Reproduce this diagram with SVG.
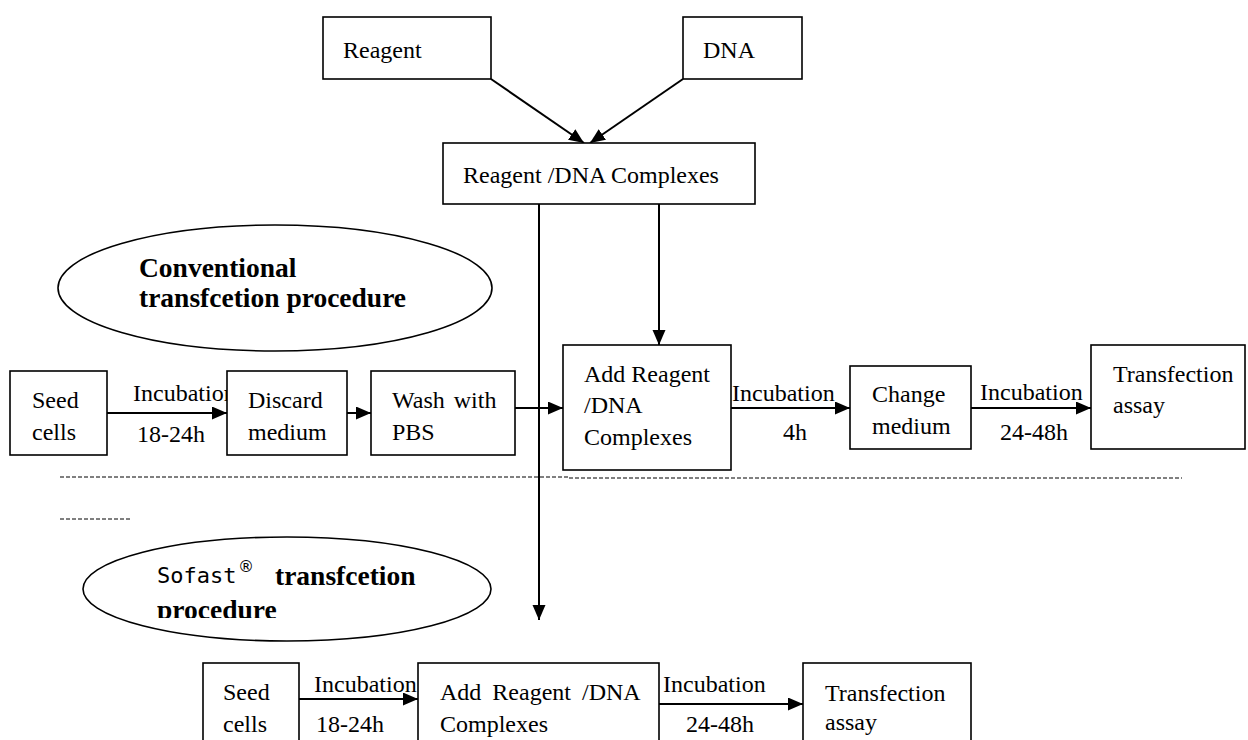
<svg xmlns="http://www.w3.org/2000/svg" width="1248" height="740" viewBox="0 0 1248 740">
<style>
.box{fill:#fff;stroke:#000;stroke-width:1.6}
.ell{fill:#fff;stroke:#000;stroke-width:1.6}
.t{font-family:"Liberation Serif","Times New Roman",serif;font-size:24px;fill:#000}
.b{font-family:"Liberation Serif","Times New Roman",serif;font-size:27.5px;font-weight:bold;fill:#000}
.mono{font-family:"DejaVu Sans Mono",monospace;font-size:22px;fill:#000}
.c{stroke:#000;stroke-width:2;fill:none}
.dash{stroke:#000;stroke-width:1;stroke-dasharray:4 2;fill:none}
</style>
<defs>
<marker id="ah" markerUnits="userSpaceOnUse" markerWidth="16" markerHeight="14" refX="15" refY="6.5" orient="auto">
<path d="M0,0 L15,6.5 L0,13 z" fill="#000"/>
</marker>
<clipPath id="clipSofast"><rect x="0" y="0" width="1248" height="618"/></clipPath>
</defs>
<rect width="1248" height="740" fill="#fff"/>

<g id="separator">
<line class="dash" x1="60" y1="477" x2="569" y2="477"/>
<line class="dash" x1="569" y1="478" x2="1182" y2="478"/>
<line class="dash" x1="60" y1="519" x2="131" y2="519"/>
</g>

<g id="labels-edges">
<text class="t" x="133" y="401">Incubation</text>
<text class="t" x="137" y="442">18-24h</text>
<text class="t" x="732" y="401">Incubation</text>
<text class="t" x="783" y="440">4h</text>
<text class="t" x="980" y="400">Incubation</text>
<text class="t" x="1000" y="440">24-48h</text>
<text class="t" x="314" y="692">Incubation</text>
<text class="t" x="316" y="732">18-24h</text>
<text class="t" x="663" y="692">Incubation</text>
<text class="t" x="686" y="732">24-48h</text>
</g>

<g id="connectors">
<line class="c" x1="491" y1="79" x2="584" y2="143" marker-end="url(#ah)"/>
<line class="c" x1="683" y1="79" x2="590" y2="143" marker-end="url(#ah)"/>
<line class="c" x1="539" y1="204" x2="539" y2="620" marker-end="url(#ah)"/>
<line class="c" x1="659" y1="204" x2="659" y2="345" marker-end="url(#ah)"/>
<line class="c" x1="107" y1="413" x2="227" y2="413" marker-end="url(#ah)"/>
<line class="c" x1="347" y1="413" x2="371" y2="413" marker-end="url(#ah)"/>
<line class="c" x1="515" y1="408" x2="563" y2="408" marker-end="url(#ah)"/>
<line class="c" x1="731" y1="408" x2="850" y2="408" marker-end="url(#ah)"/>
<line class="c" x1="971" y1="408" x2="1091" y2="408" marker-end="url(#ah)"/>
<line class="c" x1="299" y1="699" x2="418" y2="699" marker-end="url(#ah)"/>
<line class="c" x1="659" y1="704" x2="803" y2="704" marker-end="url(#ah)"/>
</g>

<g id="reagent">
<rect class="box" x="323" y="17" width="168" height="62"/>
<text class="t" x="343" y="58">Reagent</text>
</g>
<g id="dna">
<rect class="box" x="683" y="17" width="119" height="62"/>
<text class="t" x="703" y="58">DNA</text>
</g>
<g id="complexes">
<rect class="box" x="443" y="143" width="312" height="61"/>
<text class="t" x="463" y="183">Reagent /DNA Complexes</text>
</g>

<g id="conventional-title">
<ellipse class="ell" cx="275" cy="288" rx="217" ry="63"/>
<text class="b" x="139" y="277">Conventional</text>
<text class="b" x="139" y="307">transfcetion procedure</text>
</g>

<g id="seed1">
<rect class="box" x="10" y="371" width="97" height="84"/>
<text class="t" x="32" y="408">Seed</text>
<text class="t" x="32" y="440">cells</text>
</g>
<g id="discard">
<rect class="box" x="227" y="371" width="120" height="84"/>
<text class="t" x="248" y="408">Discard</text>
<text class="t" x="248" y="440">medium</text>
</g>
<g id="wash">
<rect class="box" x="371" y="371" width="144" height="84"/>
<text class="t" x="392" y="408" word-spacing="3">Wash with</text>
<text class="t" x="392" y="440">PBS</text>
</g>
<g id="add1">
<rect class="box" x="563" y="345" width="168" height="125"/>
<text class="t" x="584" y="382">Add Reagent</text>
<text class="t" x="584" y="413">/DNA</text>
<text class="t" x="584" y="445">Complexes</text>
</g>
<g id="change">
<rect class="box" x="850" y="366" width="121" height="83"/>
<text class="t" x="872" y="402">Change</text>
<text class="t" x="872" y="434">medium</text>
</g>
<g id="assay1">
<rect class="box" x="1091" y="345" width="154" height="104"/>
<text class="t" x="1113" y="382">Transfection</text>
<text class="t" x="1113" y="413">assay</text>
</g>

<g id="sofast-title">
<ellipse class="ell" cx="287" cy="589" rx="204" ry="52"/>
<g clip-path="url(#clipSofast)">
<text class="mono" x="157" y="583">Sofast</text>
<text x="238" y="572" style="font-family:'DejaVu Sans',sans-serif;font-size:16px">®</text>
<text class="b" x="275" y="585">transfcetion</text>
<text class="b" x="157" y="619">procedure</text>
</g>
</g>

<g id="seed2">
<rect class="box" x="203" y="663" width="96" height="100"/>
<text class="t" x="223" y="700">Seed</text>
<text class="t" x="223" y="732">cells</text>
</g>
<g id="add2">
<rect class="box" x="418" y="663" width="241" height="100"/>
<text class="t" x="440" y="700" word-spacing="5">Add Reagent /DNA</text>
<text class="t" x="440" y="732">Complexes</text>
</g>
<g id="assay2">
<rect class="box" x="803" y="663" width="168" height="100"/>
<text class="t" x="825" y="701">Transfection</text>
<text class="t" x="825" y="730">assay</text>
</g>
</svg>
